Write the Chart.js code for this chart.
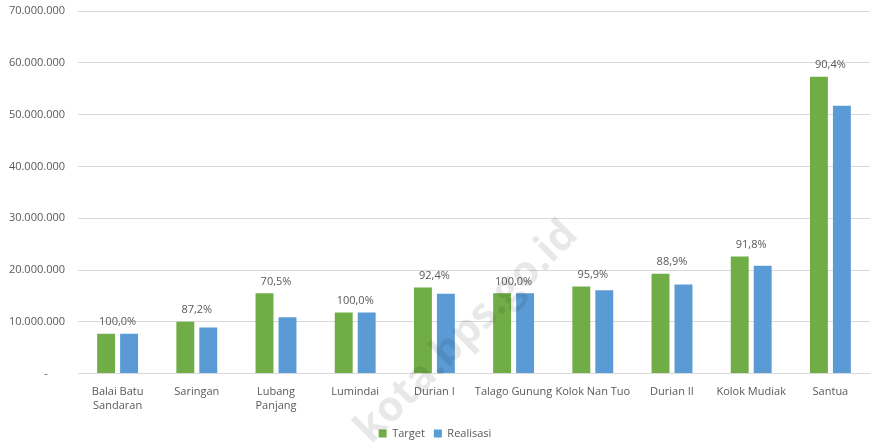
<!DOCTYPE html>
<html>
<head>
<meta charset="utf-8">
<script src="https://cdn.jsdelivr.net/npm/chart.js@4/dist/chart.umd.min.js"></script>
<style>
  html, body { margin: 0; padding: 0; background: #fff; }
  .chart-container { width: 872px; height: 443px; position: relative; }
</style>
</head>
<body>
<div class="chart-container">
  <canvas id="realisasiChart"></canvas>
</div>
<script>
const categories = [
  ["Balai Batu", "Sandaran"], "Saringan", ["Lubang", "Panjang"], "Lumindai", "Durian I",
  "Talago Gunung", "Kolok Nan Tuo", "Durian II", "Kolok Mudiak", "Santua"
];
const targetValues = [7700000, 10000000, 15500000, 11800000, 16600000, 15500000, 16800000, 19300000, 22600000, 57300000];
const realisasiValues = [7700000, 8900000, 10900000, 11800000, 15400000, 15500000, 16100000, 17200000, 20800000, 51700000];
const percentLabels = ["100,0%", "87,2%", "70,5%", "100,0%", "92,4%", "100,0%", "95,9%", "88,9%", "91,8%", "90,4%"];
const yTicks = [0, 10000000, 20000000, 30000000, 40000000, 50000000, 60000000, 70000000];

const textColor = "#595959";
const fontFamily = "'Open Sans', 'Noto Sans', sans-serif";

const formatTick = (value) => {
    if (value === 0) return "-      ";
    return value.toString().replace(/\B(?=(\d{3})+(?!\d))/g, ".");
};

// percentage text above each pair of bars
const percentPlugin = {
    id: "percentPlugin",
    afterDatasetsDraw(chart) {
        const ctx = chart.ctx;
        const metaA = chart.getDatasetMeta(0);
        const metaB = chart.getDatasetMeta(1);
        ctx.save();
        ctx.font = "11px " + fontFamily;
        ctx.fillStyle = textColor;
        ctx.textAlign = "center";
        ctx.textBaseline = "bottom";
        percentLabels.forEach((label, i) => {
            const a = metaA.data[i];
            const b = metaB.data[i];
            const x = (a.x + b.x) / 2;
            const y = Math.min(a.y, b.y) - 6;
            ctx.fillText(label, x, y);
        });
        ctx.restore();
    },
};

// faint source watermark
const watermarkPlugin = {
    id: "watermarkPlugin",
    afterDraw(chart) {
        const ctx = chart.ctx;
        ctx.save();
        ctx.translate(571, 228);
        ctx.rotate(-Math.PI / 4);
        ctx.font = "bold 42px " + fontFamily;
        ctx.fillStyle = "rgba(0, 0, 0, 0.09)";
        ctx.textAlign = "right";
        ctx.textBaseline = "middle";
        ctx.fillText("kota.bps.go.id", 0, 0);
        ctx.restore();
    },
};

const ctx = document.getElementById("realisasiChart").getContext("2d");
new Chart(ctx, {
    type: "bar",
    data: {
        labels: categories,
        datasets: [
            {
                label: "Target",
                data: targetValues,
                backgroundColor: "#70AD47",
                categoryPercentage: 0.58,
                barPercentage: 0.78,
            },
            {
                label: "Realisasi",
                data: realisasiValues,
                backgroundColor: "#5B9BD5",
                categoryPercentage: 0.58,
                barPercentage: 0.78,
            },
        ],
    },
    options: {
        responsive: true,
        maintainAspectRatio: false,
        animation: false,
        layout: {
            padding: { top: 11, right: 2, bottom: -6, left: 0 },
        },
        plugins: {
            legend: {
                position: "bottom",
                labels: {
                    boxWidth: 8,
                    boxHeight: 8,
                    padding: 9,
                    color: textColor,
                    font: { size: 11, family: fontFamily },
                },
            },
            tooltip: { enabled: false },
        },
        scales: {
            x: {
                grid: { display: false },
                border: { display: true, color: "#D9D9D9" },
                afterFit: (scale) => {
                    scale.height += 3;
                },
                ticks: {
                    color: textColor,
                    font: { size: 11, family: fontFamily },
                    maxRotation: 0,
                    autoSkip: false,
                    padding: 4,
                },
            },
            y: {
                min: 0,
                max: 70000000,
                border: { display: false },
                afterBuildTicks: (scale) => {
                    scale.ticks = yTicks.map((v) => ({ value: v }));
                },
                afterFit: (scale) => {
                    scale.width = 78;
                    scale.paddingTop = 0;
                    scale.paddingBottom = 0;
                },
                grid: {
                    color: "#D9D9D9",
                    drawTicks: false,
                },
                ticks: {
                    color: textColor,
                    font: { size: 11, family: fontFamily },
                    padding: 13,
                    callback: (value) => formatTick(value),
                },
            },
        },
    },
    plugins: [percentPlugin, watermarkPlugin],
});
</script>
</body>
</html>
